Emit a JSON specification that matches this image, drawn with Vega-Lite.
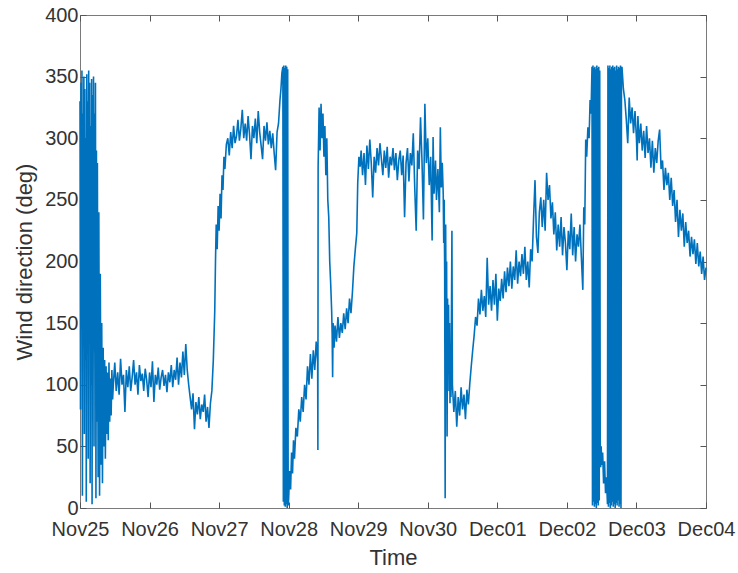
{
"$schema":"https://vega.github.io/schema/vega-lite/v6.json",
"width":626,"height":493,
"autosize":"none",
"padding":{"left":80,"top":15,"right":32,"bottom":65},
"background":"white",
"config":{
 "font":"Liberation Sans",
 "view":{"stroke":"#7a7a7a","strokeWidth":1},
 "axis":{"grid":false,"domain":false,"tickColor":"#555555","tickSize":-6,"tickWidth":1,"labelColor":"#333333","titleColor":"#333333","labelFontSize":20,"titleFontSize":22,"titleFontWeight":"normal","labelFont":"Liberation Sans","titleFont":"Liberation Sans"}
},
"data":{"values":[
{"t":"2017-11-25T00:00","v":330},{"t":"2017-11-25T00:10","v":80},{"t":"2017-11-25T00:20","v":345},{"t":"2017-11-25T00:30","v":150},{"t":"2017-11-25T00:40","v":355},{"t":"2017-11-25T00:50","v":10},{"t":"2017-11-25T01:00","v":320},{"t":"2017-11-25T01:10","v":200},{"t":"2017-11-25T01:20","v":350},{"t":"2017-11-25T01:30","v":60},{"t":"2017-11-25T01:40","v":340},{"t":"2017-11-25T01:50","v":120},{"t":"2017-11-25T02:00","v":300},{"t":"2017-11-25T02:10","v":5},{"t":"2017-11-25T02:20","v":352},{"t":"2017-11-25T02:30","v":240},{"t":"2017-11-25T02:40","v":330},{"t":"2017-11-25T02:50","v":40},{"t":"2017-11-25T03:00","v":355},{"t":"2017-11-25T03:10","v":180},{"t":"2017-11-25T03:20","v":345},{"t":"2017-11-25T03:30","v":20},{"t":"2017-11-25T03:40","v":310},{"t":"2017-11-25T03:50","v":100},{"t":"2017-11-25T04:00","v":348},{"t":"2017-11-25T04:10","v":3},{"t":"2017-11-25T04:20","v":335},{"t":"2017-11-25T04:30","v":160},{"t":"2017-11-25T04:40","v":350},{"t":"2017-11-25T04:50","v":50},{"t":"2017-11-25T05:00","v":320},{"t":"2017-11-25T05:10","v":130},{"t":"2017-11-25T05:20","v":345},{"t":"2017-11-25T05:30","v":8},{"t":"2017-11-25T05:40","v":290},{"t":"2017-11-25T05:50","v":70},{"t":"2017-11-25T06:00","v":280},{"t":"2017-11-25T06:15","v":25},{"t":"2017-11-25T06:30","v":240},{"t":"2017-11-25T06:45","v":10},{"t":"2017-11-25T07:00","v":190},{"t":"2017-11-25T07:15","v":35},{"t":"2017-11-25T07:30","v":150},{"t":"2017-11-25T07:45","v":20},{"t":"2017-11-25T08:00","v":130},{"t":"2017-11-25T08:15","v":50},{"t":"2017-11-25T08:30","v":120},{"t":"2017-11-25T08:45","v":40},{"t":"2017-11-25T09:00","v":115},{"t":"2017-11-25T09:15","v":60},{"t":"2017-11-25T09:30","v":110},{"t":"2017-11-25T09:45","v":55},{"t":"2017-11-25T10:00","v":118},{"t":"2017-11-25T10:15","v":70},{"t":"2017-11-25T10:30","v":105},{"t":"2017-11-25T10:45","v":75},{"t":"2017-11-25T11:00","v":112},{"t":"2017-11-25T11:15","v":88},{"t":"2017-11-25T11:30","v":100},{"t":"2017-11-25T12:00","v":118},{"t":"2017-11-25T12:30","v":95},{"t":"2017-11-25T13:00","v":110},{"t":"2017-11-25T13:30","v":92},{"t":"2017-11-25T14:00","v":121},{"t":"2017-11-25T14:30","v":100},{"t":"2017-11-25T15:00","v":108},{"t":"2017-11-25T15:30","v":78},{"t":"2017-11-25T16:00","v":112},{"t":"2017-11-25T16:30","v":98},{"t":"2017-11-25T17:00","v":115},{"t":"2017-11-25T17:30","v":95},{"t":"2017-11-25T18:00","v":106},{"t":"2017-11-25T18:30","v":120},{"t":"2017-11-25T19:00","v":100},{"t":"2017-11-25T19:30","v":110},{"t":"2017-11-25T20:00","v":92},{"t":"2017-11-25T20:30","v":116},{"t":"2017-11-25T21:00","v":103},{"t":"2017-11-25T21:30","v":109},{"t":"2017-11-25T22:00","v":95},{"t":"2017-11-25T22:30","v":113},{"t":"2017-11-25T23:00","v":104},{"t":"2017-11-25T23:30","v":90},
{"t":"2017-11-26T00:00","v":110},{"t":"2017-11-26T00:30","v":98},{"t":"2017-11-26T01:00","v":119},{"t":"2017-11-26T01:30","v":86},{"t":"2017-11-26T02:00","v":108},{"t":"2017-11-26T02:30","v":100},{"t":"2017-11-26T03:00","v":114},{"t":"2017-11-26T03:30","v":96},{"t":"2017-11-26T04:00","v":106},{"t":"2017-11-26T04:30","v":112},{"t":"2017-11-26T05:00","v":99},{"t":"2017-11-26T05:30","v":108},{"t":"2017-11-26T06:00","v":94},{"t":"2017-11-26T06:30","v":110},{"t":"2017-11-26T07:00","v":102},{"t":"2017-11-26T07:30","v":116},{"t":"2017-11-26T08:00","v":98},{"t":"2017-11-26T08:30","v":112},{"t":"2017-11-26T09:00","v":104},{"t":"2017-11-26T09:30","v":122},{"t":"2017-11-26T10:00","v":100},{"t":"2017-11-26T10:30","v":118},{"t":"2017-11-26T11:00","v":106},{"t":"2017-11-26T11:30","v":127},{"t":"2017-11-26T12:00","v":108},{"t":"2017-11-26T12:30","v":133},{"t":"2017-11-26T13:00","v":112},{"t":"2017-11-26T13:30","v":100},{"t":"2017-11-26T14:00","v":90},{"t":"2017-11-26T14:30","v":80},{"t":"2017-11-26T15:00","v":93},{"t":"2017-11-26T15:30","v":64},{"t":"2017-11-26T16:00","v":86},{"t":"2017-11-26T16:30","v":76},{"t":"2017-11-26T17:00","v":90},{"t":"2017-11-26T17:30","v":72},{"t":"2017-11-26T18:00","v":84},{"t":"2017-11-26T18:30","v":78},{"t":"2017-11-26T19:00","v":92},{"t":"2017-11-26T19:30","v":70},{"t":"2017-11-26T20:00","v":82},{"t":"2017-11-26T20:30","v":65},{"t":"2017-11-26T21:00","v":85},{"t":"2017-11-26T21:30","v":95},{"t":"2017-11-26T22:00","v":120},{"t":"2017-11-26T22:30","v":160},{"t":"2017-11-26T22:45","v":200},{"t":"2017-11-26T23:00","v":230},{"t":"2017-11-26T23:20","v":210},{"t":"2017-11-26T23:40","v":245},
{"t":"2017-11-27T00:00","v":225},{"t":"2017-11-27T00:20","v":255},{"t":"2017-11-27T00:40","v":235},{"t":"2017-11-27T01:00","v":270},{"t":"2017-11-27T01:20","v":258},{"t":"2017-11-27T01:40","v":285},{"t":"2017-11-27T02:00","v":275},{"t":"2017-11-27T02:30","v":295},{"t":"2017-11-27T03:00","v":300},{"t":"2017-11-27T03:30","v":286},{"t":"2017-11-27T04:00","v":305},{"t":"2017-11-27T04:30","v":292},{"t":"2017-11-27T05:00","v":310},{"t":"2017-11-27T05:30","v":296},{"t":"2017-11-27T06:00","v":302},{"t":"2017-11-27T06:30","v":315},{"t":"2017-11-27T07:00","v":298},{"t":"2017-11-27T07:30","v":308},{"t":"2017-11-27T08:00","v":323},{"t":"2017-11-27T08:30","v":300},{"t":"2017-11-27T09:00","v":312},{"t":"2017-11-27T09:30","v":298},{"t":"2017-11-27T10:00","v":318},{"t":"2017-11-27T10:30","v":303},{"t":"2017-11-27T11:00","v":283},{"t":"2017-11-27T11:30","v":310},{"t":"2017-11-27T12:00","v":300},{"t":"2017-11-27T12:30","v":316},{"t":"2017-11-27T13:00","v":296},{"t":"2017-11-27T13:30","v":322},{"t":"2017-11-27T14:00","v":305},{"t":"2017-11-27T14:30","v":294},{"t":"2017-11-27T15:00","v":283},{"t":"2017-11-27T15:30","v":310},{"t":"2017-11-27T16:00","v":298},{"t":"2017-11-27T16:30","v":313},{"t":"2017-11-27T17:00","v":295},{"t":"2017-11-27T17:30","v":306},{"t":"2017-11-27T18:00","v":292},{"t":"2017-11-27T18:30","v":304},{"t":"2017-11-27T19:00","v":288},{"t":"2017-11-27T19:30","v":274},{"t":"2017-11-27T20:00","v":305},{"t":"2017-11-27T20:30","v":312},{"t":"2017-11-27T21:00","v":331},{"t":"2017-11-27T21:20","v":340},{"t":"2017-11-27T21:40","v":353},{"t":"2017-11-27T22:00","v":358},{"t":"2017-11-27T22:10","v":5},{"t":"2017-11-27T22:20","v":359},{"t":"2017-11-27T22:30","v":2},{"t":"2017-11-27T22:40","v":357},{"t":"2017-11-27T22:50","v":1},{"t":"2017-11-27T23:00","v":359},{"t":"2017-11-27T23:10","v":3},{"t":"2017-11-27T23:20","v":358},{"t":"2017-11-27T23:30","v":0},{"t":"2017-11-27T23:40","v":356},{"t":"2017-11-27T23:50","v":2},
{"t":"2017-11-28T00:00","v":8},{"t":"2017-11-28T00:20","v":30},{"t":"2017-11-28T00:40","v":15},{"t":"2017-11-28T01:00","v":45},{"t":"2017-11-28T01:20","v":28},{"t":"2017-11-28T01:40","v":55},{"t":"2017-11-28T02:00","v":40},{"t":"2017-11-28T02:30","v":65},{"t":"2017-11-28T03:00","v":58},{"t":"2017-11-28T03:30","v":80},{"t":"2017-11-28T04:00","v":70},{"t":"2017-11-28T04:30","v":90},{"t":"2017-11-28T05:00","v":78},{"t":"2017-11-28T05:30","v":100},{"t":"2017-11-28T06:00","v":88},{"t":"2017-11-28T06:30","v":115},{"t":"2017-11-28T07:00","v":100},{"t":"2017-11-28T07:30","v":125},{"t":"2017-11-28T08:00","v":105},{"t":"2017-11-28T08:30","v":128},{"t":"2017-11-28T09:00","v":112},{"t":"2017-11-28T09:30","v":135},{"t":"2017-11-28T10:00","v":118},{"t":"2017-11-28T10:05","v":47},{"t":"2017-11-28T10:10","v":277},{"t":"2017-11-28T10:20","v":300},{"t":"2017-11-28T10:30","v":325},{"t":"2017-11-28T10:50","v":290},{"t":"2017-11-28T11:10","v":328},{"t":"2017-11-28T11:30","v":300},{"t":"2017-11-28T11:50","v":320},{"t":"2017-11-28T12:10","v":285},{"t":"2017-11-28T12:30","v":310},{"t":"2017-11-28T12:50","v":270},{"t":"2017-11-28T13:10","v":300},{"t":"2017-11-28T13:30","v":250},{"t":"2017-11-28T13:50","v":236},{"t":"2017-11-28T14:10","v":200},{"t":"2017-11-28T14:30","v":182},{"t":"2017-11-28T14:50","v":160},{"t":"2017-11-28T15:00","v":142},{"t":"2017-11-28T15:10","v":106},{"t":"2017-11-28T15:20","v":150},{"t":"2017-11-28T15:40","v":130},{"t":"2017-11-28T16:00","v":148},{"t":"2017-11-28T16:30","v":135},{"t":"2017-11-28T17:00","v":155},{"t":"2017-11-28T17:30","v":138},{"t":"2017-11-28T18:00","v":150},{"t":"2017-11-28T18:30","v":142},{"t":"2017-11-28T19:00","v":158},{"t":"2017-11-28T19:30","v":145},{"t":"2017-11-28T20:00","v":162},{"t":"2017-11-28T20:30","v":150},{"t":"2017-11-28T21:00","v":170},{"t":"2017-11-28T21:30","v":158},{"t":"2017-11-28T22:00","v":175},{"t":"2017-11-28T22:30","v":196},{"t":"2017-11-28T23:00","v":210},{"t":"2017-11-28T23:30","v":223},{"t":"2017-11-28T23:50","v":264},
{"t":"2017-11-29T00:15","v":285},{"t":"2017-11-29T00:40","v":277},{"t":"2017-11-29T01:00","v":290},{"t":"2017-11-29T01:30","v":270},{"t":"2017-11-29T02:00","v":288},{"t":"2017-11-29T02:30","v":262},{"t":"2017-11-29T03:00","v":294},{"t":"2017-11-29T03:30","v":275},{"t":"2017-11-29T04:00","v":299},{"t":"2017-11-29T04:30","v":280},{"t":"2017-11-29T05:00","v":252},{"t":"2017-11-29T05:30","v":285},{"t":"2017-11-29T06:00","v":272},{"t":"2017-11-29T06:30","v":292},{"t":"2017-11-29T07:00","v":278},{"t":"2017-11-29T07:30","v":296},{"t":"2017-11-29T08:00","v":283},{"t":"2017-11-29T08:30","v":270},{"t":"2017-11-29T09:00","v":290},{"t":"2017-11-29T09:30","v":276},{"t":"2017-11-29T10:00","v":293},{"t":"2017-11-29T10:30","v":268},{"t":"2017-11-29T11:00","v":285},{"t":"2017-11-29T11:30","v":278},{"t":"2017-11-29T12:00","v":292},{"t":"2017-11-29T12:30","v":274},{"t":"2017-11-29T13:00","v":288},{"t":"2017-11-29T13:30","v":266},{"t":"2017-11-29T14:00","v":282},{"t":"2017-11-29T14:30","v":290},{"t":"2017-11-29T15:00","v":270},{"t":"2017-11-29T15:30","v":286},{"t":"2017-11-29T16:00","v":236},{"t":"2017-11-29T16:30","v":280},{"t":"2017-11-29T17:00","v":292},{"t":"2017-11-29T17:30","v":265},{"t":"2017-11-29T18:00","v":288},{"t":"2017-11-29T18:30","v":278},{"t":"2017-11-29T19:00","v":304},{"t":"2017-11-29T19:30","v":260},{"t":"2017-11-29T20:00","v":225},{"t":"2017-11-29T20:30","v":290},{"t":"2017-11-29T21:00","v":275},{"t":"2017-11-29T21:30","v":317},{"t":"2017-11-29T22:00","v":282},{"t":"2017-11-29T22:30","v":234},{"t":"2017-11-29T23:00","v":328},{"t":"2017-11-29T23:30","v":280},
{"t":"2017-11-30T00:00","v":300},{"t":"2017-11-30T00:30","v":262},{"t":"2017-11-30T01:00","v":285},{"t":"2017-11-30T01:30","v":217},{"t":"2017-11-30T01:50","v":301},{"t":"2017-11-30T02:10","v":255},{"t":"2017-11-30T02:40","v":282},{"t":"2017-11-30T03:00","v":250},{"t":"2017-11-30T03:30","v":275},{"t":"2017-11-30T04:00","v":240},{"t":"2017-11-30T04:20","v":309},{"t":"2017-11-30T04:40","v":260},{"t":"2017-11-30T05:00","v":280},{"t":"2017-11-30T05:20","v":255},{"t":"2017-11-30T05:30","v":215},{"t":"2017-11-30T05:40","v":250},{"t":"2017-11-30T05:50","v":190},{"t":"2017-11-30T06:00","v":8},{"t":"2017-11-30T06:10","v":230},{"t":"2017-11-30T06:20","v":150},{"t":"2017-11-30T06:30","v":200},{"t":"2017-11-30T06:40","v":58},{"t":"2017-11-30T06:50","v":170},{"t":"2017-11-30T07:00","v":120},{"t":"2017-11-30T07:10","v":165},{"t":"2017-11-30T07:20","v":95},{"t":"2017-11-30T07:30","v":150},{"t":"2017-11-30T07:40","v":85},{"t":"2017-11-30T07:50","v":130},{"t":"2017-11-30T08:00","v":90},{"t":"2017-11-30T08:20","v":225},{"t":"2017-11-30T08:30","v":100},{"t":"2017-11-30T09:00","v":78},{"t":"2017-11-30T09:30","v":95},{"t":"2017-11-30T10:00","v":66},{"t":"2017-11-30T10:30","v":90},{"t":"2017-11-30T11:00","v":75},{"t":"2017-11-30T11:30","v":98},{"t":"2017-11-30T12:00","v":80},{"t":"2017-11-30T12:30","v":92},{"t":"2017-11-30T13:00","v":72},{"t":"2017-11-30T13:30","v":96},{"t":"2017-11-30T14:00","v":84},{"t":"2017-11-30T14:30","v":101},{"t":"2017-11-30T15:00","v":115},{"t":"2017-11-30T15:30","v":128},{"t":"2017-11-30T16:00","v":140},{"t":"2017-11-30T16:30","v":155},{"t":"2017-11-30T17:00","v":148},{"t":"2017-11-30T17:30","v":170},{"t":"2017-11-30T18:00","v":157},{"t":"2017-11-30T18:30","v":177},{"t":"2017-11-30T19:00","v":160},{"t":"2017-11-30T19:30","v":172},{"t":"2017-11-30T20:00","v":155},{"t":"2017-11-30T20:30","v":203},{"t":"2017-11-30T21:00","v":165},{"t":"2017-11-30T21:30","v":180},{"t":"2017-11-30T22:00","v":160},{"t":"2017-11-30T22:30","v":185},{"t":"2017-11-30T23:00","v":165},{"t":"2017-11-30T23:30","v":190},
{"t":"2017-12-01T00:00","v":152},{"t":"2017-12-01T00:30","v":178},{"t":"2017-12-01T01:00","v":168},{"t":"2017-12-01T01:30","v":186},{"t":"2017-12-01T02:00","v":170},{"t":"2017-12-01T02:30","v":192},{"t":"2017-12-01T03:00","v":175},{"t":"2017-12-01T03:30","v":195},{"t":"2017-12-01T04:00","v":180},{"t":"2017-12-01T04:30","v":200},{"t":"2017-12-01T05:00","v":178},{"t":"2017-12-01T05:30","v":196},{"t":"2017-12-01T06:00","v":185},{"t":"2017-12-01T06:30","v":209},{"t":"2017-12-01T07:00","v":182},{"t":"2017-12-01T07:30","v":200},{"t":"2017-12-01T08:00","v":188},{"t":"2017-12-01T08:30","v":206},{"t":"2017-12-01T09:00","v":190},{"t":"2017-12-01T09:30","v":212},{"t":"2017-12-01T10:00","v":185},{"t":"2017-12-01T10:30","v":200},{"t":"2017-12-01T11:00","v":179},{"t":"2017-12-01T11:30","v":210},{"t":"2017-12-01T12:00","v":200},{"t":"2017-12-01T12:30","v":235},{"t":"2017-12-01T13:00","v":266},{"t":"2017-12-01T13:30","v":220},{"t":"2017-12-01T14:00","v":207},{"t":"2017-12-01T14:30","v":240},{"t":"2017-12-01T15:00","v":252},{"t":"2017-12-01T15:30","v":228},{"t":"2017-12-01T16:00","v":250},{"t":"2017-12-01T16:30","v":225},{"t":"2017-12-01T17:00","v":272},{"t":"2017-12-01T17:30","v":250},{"t":"2017-12-01T18:00","v":262},{"t":"2017-12-01T18:30","v":235},{"t":"2017-12-01T19:00","v":248},{"t":"2017-12-01T19:30","v":222},{"t":"2017-12-01T20:00","v":240},{"t":"2017-12-01T20:30","v":209},{"t":"2017-12-01T21:00","v":230},{"t":"2017-12-01T21:30","v":212},{"t":"2017-12-01T22:00","v":236},{"t":"2017-12-01T22:30","v":205},{"t":"2017-12-01T23:00","v":228},{"t":"2017-12-01T23:30","v":215},
{"t":"2017-12-02T00:00","v":193},{"t":"2017-12-02T00:30","v":225},{"t":"2017-12-02T01:00","v":210},{"t":"2017-12-02T01:30","v":239},{"t":"2017-12-02T02:00","v":205},{"t":"2017-12-02T02:30","v":228},{"t":"2017-12-02T03:00","v":200},{"t":"2017-12-02T03:30","v":222},{"t":"2017-12-02T04:00","v":212},{"t":"2017-12-02T04:30","v":230},{"t":"2017-12-02T05:00","v":203},{"t":"2017-12-02T05:30","v":177},{"t":"2017-12-02T05:50","v":244},{"t":"2017-12-02T06:10","v":230},{"t":"2017-12-02T06:30","v":299},{"t":"2017-12-02T06:50","v":285},{"t":"2017-12-02T07:15","v":309},{"t":"2017-12-02T07:40","v":300},{"t":"2017-12-02T08:00","v":331},{"t":"2017-12-02T08:20","v":320},{"t":"2017-12-02T08:40","v":358},{"t":"2017-12-02T08:50","v":2},{"t":"2017-12-02T09:00","v":359},{"t":"2017-12-02T09:10","v":5},{"t":"2017-12-02T09:20","v":357},{"t":"2017-12-02T09:30","v":1},{"t":"2017-12-02T09:40","v":358},{"t":"2017-12-02T09:50","v":3},{"t":"2017-12-02T10:00","v":356},{"t":"2017-12-02T10:10","v":0},{"t":"2017-12-02T10:20","v":359},{"t":"2017-12-02T10:30","v":4},{"t":"2017-12-02T10:40","v":357},{"t":"2017-12-02T10:50","v":2},{"t":"2017-12-02T11:00","v":358},{"t":"2017-12-02T11:10","v":6},{"t":"2017-12-02T11:20","v":355},{"t":"2017-12-02T11:30","v":55},{"t":"2017-12-02T11:40","v":33},{"t":"2017-12-02T11:50","v":50},{"t":"2017-12-02T12:00","v":35},{"t":"2017-12-02T12:20","v":45},{"t":"2017-12-02T12:40","v":20},{"t":"2017-12-02T13:00","v":38},{"t":"2017-12-02T13:20","v":12},{"t":"2017-12-02T13:40","v":25},{"t":"2017-12-02T14:00","v":3},{"t":"2017-12-02T14:10","v":359},{"t":"2017-12-02T14:20","v":1},{"t":"2017-12-02T14:30","v":357},{"t":"2017-12-02T14:40","v":4},{"t":"2017-12-02T14:50","v":359},{"t":"2017-12-02T15:00","v":0},{"t":"2017-12-02T15:10","v":356},{"t":"2017-12-02T15:20","v":2},{"t":"2017-12-02T15:30","v":358},{"t":"2017-12-02T15:40","v":5},{"t":"2017-12-02T15:50","v":359},{"t":"2017-12-02T16:00","v":1},{"t":"2017-12-02T16:10","v":357},{"t":"2017-12-02T16:20","v":3},{"t":"2017-12-02T16:30","v":358},{"t":"2017-12-02T16:40","v":0},{"t":"2017-12-02T16:50","v":355},{"t":"2017-12-02T17:00","v":4},{"t":"2017-12-02T17:10","v":359},{"t":"2017-12-02T17:20","v":2},{"t":"2017-12-02T17:30","v":356},{"t":"2017-12-02T17:40","v":6},{"t":"2017-12-02T17:50","v":358},{"t":"2017-12-02T18:00","v":1},{"t":"2017-12-02T18:10","v":357},{"t":"2017-12-02T18:20","v":3},{"t":"2017-12-02T18:30","v":359},{"t":"2017-12-02T18:40","v":0},{"t":"2017-12-02T18:50","v":356},{"t":"2017-12-02T19:00","v":358},{"t":"2017-12-02T19:30","v":340},{"t":"2017-12-02T20:00","v":331},{"t":"2017-12-02T20:30","v":315},{"t":"2017-12-02T21:00","v":296},{"t":"2017-12-02T21:30","v":333},{"t":"2017-12-02T22:00","v":312},{"t":"2017-12-02T22:30","v":325},{"t":"2017-12-02T23:00","v":304},{"t":"2017-12-02T23:30","v":322},
{"t":"2017-12-03T00:00","v":300},{"t":"2017-12-03T00:15","v":282},{"t":"2017-12-03T00:30","v":318},{"t":"2017-12-03T01:00","v":296},{"t":"2017-12-03T01:30","v":312},{"t":"2017-12-03T02:00","v":290},{"t":"2017-12-03T02:30","v":306},{"t":"2017-12-03T03:00","v":284},{"t":"2017-12-03T03:30","v":310},{"t":"2017-12-03T04:00","v":288},{"t":"2017-12-03T04:30","v":300},{"t":"2017-12-03T05:00","v":276},{"t":"2017-12-03T05:30","v":298},{"t":"2017-12-03T06:00","v":272},{"t":"2017-12-03T06:30","v":292},{"t":"2017-12-03T07:00","v":280},{"t":"2017-12-03T07:30","v":298},{"t":"2017-12-03T08:00","v":307},{"t":"2017-12-03T08:30","v":275},{"t":"2017-12-03T09:00","v":282},{"t":"2017-12-03T09:30","v":258},{"t":"2017-12-03T10:00","v":276},{"t":"2017-12-03T10:30","v":262},{"t":"2017-12-03T11:00","v":272},{"t":"2017-12-03T11:30","v":250},{"t":"2017-12-03T12:00","v":268},{"t":"2017-12-03T12:30","v":245},{"t":"2017-12-03T13:00","v":258},{"t":"2017-12-03T13:30","v":232},{"t":"2017-12-03T14:00","v":250},{"t":"2017-12-03T14:30","v":220},{"t":"2017-12-03T15:00","v":242},{"t":"2017-12-03T15:30","v":225},{"t":"2017-12-03T16:00","v":239},{"t":"2017-12-03T16:30","v":212},{"t":"2017-12-03T17:00","v":232},{"t":"2017-12-03T17:30","v":215},{"t":"2017-12-03T18:00","v":225},{"t":"2017-12-03T18:30","v":204},{"t":"2017-12-03T19:00","v":220},{"t":"2017-12-03T19:30","v":206},{"t":"2017-12-03T20:00","v":218},{"t":"2017-12-03T20:30","v":198},{"t":"2017-12-03T21:00","v":215},{"t":"2017-12-03T21:30","v":196},{"t":"2017-12-03T22:00","v":208},{"t":"2017-12-03T22:30","v":190},{"t":"2017-12-03T23:00","v":204},{"t":"2017-12-03T23:30","v":185},
{"t":"2017-12-04T00:00","v":195}
]},
"layer":[
 {"mark":{"type":"line","color":"#0072BD","strokeWidth":1.6},
  "encoding":{
   "x":{"field":"t","type":"temporal","scale":{"domain":[{"year":2017,"month":11,"date":25},{"year":2017,"month":12,"date":4}],"nice":false},
        "axis":{"orient":"bottom","format":"%b%d","tickCount":{"interval":"day","step":1},"labelPadding":17,"labelFlush":false,"labelOverlap":false,"title":"Time","titlePadding":8}},
   "y":{"field":"v","type":"quantitative","scale":{"domain":[0,400],"nice":false,"zero":false},
        "axis":{"orient":"left","values":[0,50,100,150,200,250,300,350,400],"labelPadding":8,"title":"Wind direction (deg)","titlePadding":8}}
  }},
 {"mark":{"type":"line","opacity":0},
  "encoding":{
   "x":{"field":"t","type":"temporal","axis":{"orient":"top","tickCount":{"interval":"day","step":1},"labels":false,"title":null}},
   "y":{"field":"v","type":"quantitative","axis":{"orient":"right","values":[0,50,100,150,200,250,300,350,400],"labels":false,"title":null}}
  }}
],
"resolve":{"axis":{"x":"independent","y":"independent"}}
}
